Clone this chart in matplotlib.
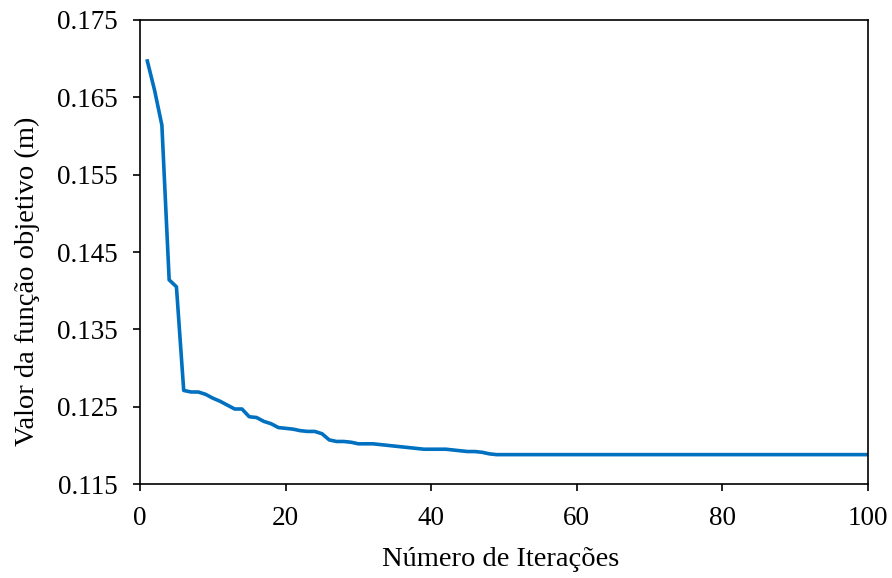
import numpy as np
import matplotlib
matplotlib.use('Agg')
import matplotlib.pyplot as plt

iteracoes = list(range(1, 101))
valores = [
    0.1697, 0.1659, 0.1614, 0.1414, 0.1405, 0.1271, 0.1269, 0.1269, 0.1266, 0.1261,
    0.1257, 0.1252, 0.1247, 0.1247, 0.1237, 0.1236, 0.1231, 0.1228, 0.1223, 0.1222,
    0.1221, 0.1219, 0.1218, 0.1218, 0.1215, 0.1207, 0.1205, 0.1205, 0.1204, 0.1202,
    0.1202, 0.1202, 0.1201, 0.1200, 0.1199, 0.1198, 0.1197, 0.1196, 0.1195, 0.1195,
    0.1195, 0.1195, 0.1194, 0.1193, 0.1192, 0.1192, 0.1191, 0.1189, 0.1188, 0.1188,
    0.1188, 0.1188, 0.1188, 0.1188, 0.1188, 0.1188, 0.1188, 0.1188, 0.1188, 0.1188,
    0.1188, 0.1188, 0.1188, 0.1188, 0.1188, 0.1188, 0.1188, 0.1188, 0.1188, 0.1188,
    0.1188, 0.1188, 0.1188, 0.1188, 0.1188, 0.1188, 0.1188, 0.1188, 0.1188, 0.1188,
    0.1188, 0.1188, 0.1188, 0.1188, 0.1188, 0.1188, 0.1188, 0.1188, 0.1188, 0.1188,
    0.1188, 0.1188, 0.1188, 0.1188, 0.1188, 0.1188, 0.1188, 0.1188, 0.1188, 0.1188,
]
xticks = [0, 20, 40, 60, 80, 100]
yticks = [0.115, 0.125, 0.135, 0.145, 0.155, 0.165, 0.175]

plt.rcParams['font.family'] = ['Liberation Serif', 'DejaVu Serif']

fig = plt.figure(figsize=(8.92, 5.78), dpi=100)
ax = fig.add_axes([0.157, 0.1626, 0.816, 0.8028])

ax.plot(iteracoes, valores, color='#0070C0', linewidth=2.6, solid_joinstyle='round')

ax.set_xlim(0, 100)
ax.set_ylim(0.115, 0.175)
ax.set_xticks(xticks)
ax.set_yticks(yticks)
ax.set_yticklabels(['%.3f' % v for v in yticks])
ax.tick_params(direction='out', length=5, width=1.2, labelsize=19.5, colors='black')
ax.tick_params(axis='y', pad=11)
ax.tick_params(axis='x', pad=10.5)
for s in ax.spines.values():
    s.set_linewidth(1.2)
    s.set_color('black')

ax.set_xlabel('Número de Iterações', fontsize=20.5)
ax.set_ylabel('Valor da função objetivo (m)', fontsize=20.5)
ax.xaxis.set_label_coords(0.495, -0.135)
ax.yaxis.set_label_coords(-0.137, 0.4375)

fig.savefig('out.png', dpi=100)
